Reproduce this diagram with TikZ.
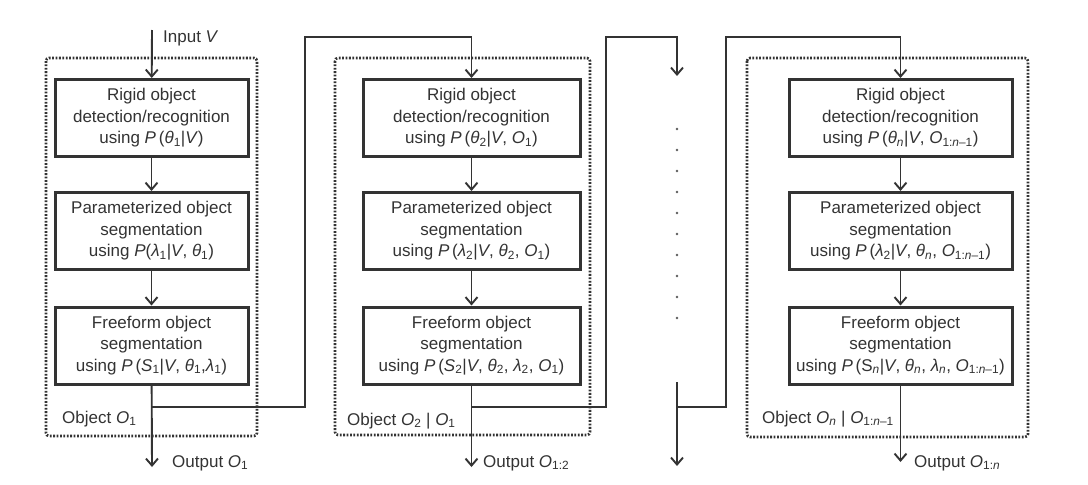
\documentclass[tikz,border=0pt]{standalone}
\usepackage{fontspec}
\setmainfont{Liberation Sans}
\usetikzlibrary{arrows.meta}
\definecolor{gris}{HTML}{333333}
\newcommand{\ind}[1]{\textsubscript{#1}}
\begin{document}
\begin{tikzpicture}[x=1pt, y=-1pt]
	\tikzset{boite/.style={draw=gris, line width=3pt, fill=white, align=center, inner sep=0pt, minimum height=77pt, text=gris, font=\fontsize{17}{21.5}\selectfont},
		cadre/.style={draw=gris, line width=2.6pt, dash pattern=on 1.8pt off 1.6pt, rounded corners=3pt},
		fleche/.style={>={Straight Barb[length=7pt, width=12pt]}, ->, draw=gris, line width=1.9pt},
		texte/.style={anchor=west, inner sep=0pt, text=gris, font=\fontsize{17}{21.5}\selectfont}};

	\useasboundingbox[fill=white] (0,0) rectangle (1088,485);

	\draw[cadre] (  46,  58) rectangle ( 257, 436);
	\draw[cadre] ( 335,  58) rectangle ( 590, 435);
	\draw[cadre] ( 747,  58) rectangle (1028, 437);

	\node[boite, minimum width=193pt] (r1) at (151.5, 118) {Rigid object\\detection/recognition\\using \textit{P}\,(\textit{θ}\ind{1}|\textit{V})};
	\node[boite, minimum width=193pt] (p1) at (151.5, 231) {Parameterized object\\segmentation\\using \textit{P}(\textit{λ}\ind{1}|\textit{V}, \textit{θ}\ind{1})};
	\node[boite, minimum width=193pt] (f1) at (151.5, 345.5) {Freeform object\\segmentation\\using \textit{P}\,(\textit{S}\ind{1}|\textit{V}, \textit{θ}\ind{1},\textit{λ}\ind{1})};

	\node[boite, minimum width=217pt] (r2) at (471.5, 118) {Rigid object\\detection/recognition\\using \textit{P}\,(\textit{θ}\ind{2}|\textit{V}, \textit{O}\ind{1})};
	\node[boite, minimum width=217pt] (p2) at (471.5, 231) {Parameterized object\\segmentation\\using \textit{P}\,(\textit{λ}\ind{2}|\textit{V}, \textit{θ}\ind{2}, \textit{O}\ind{1})};
	\node[boite, minimum width=217pt] (f2) at (471.5, 345.5) {Freeform object\\segmentation\\using \textit{P}\,(\textit{S}\ind{2}|\textit{V}, \textit{θ}\ind{2}, \textit{λ}\ind{2}, \textit{O}\ind{1})};

	\node[boite, minimum width=223pt] (rn) at (900.5, 118) {Rigid object\\detection/recognition\\using \textit{P}\,(\textit{θ}\ind{\textit{n}}|\textit{V}, \textit{O}\ind{1:\textit{n}–1})};
	\node[boite, minimum width=223pt] (pn) at (900.5, 231) {Parameterized object\\segmentation\\using \textit{P}\,(\textit{λ}\ind{2}|\textit{V}, \textit{θ}\ind{\textit{n}}, \textit{O}\ind{1:\textit{n}–1})};
	\node[boite, minimum width=223pt] (fn) at (900.5, 345.5) {Freeform object\\segmentation\\using \textit{P}\,(S\ind{\textit{n}}|\textit{V}, \textit{θ}\ind{\textit{n}}, \textit{λ}\ind{\textit{n}}, \textit{O}\ind{1:\textit{n}–1})};

	\node[texte] (in)  at ( 163,  38) {Input \textit{V}};
	\node[texte] (o1)  at (  62, 419) {Object \textit{O}\ind{1}};
	\node[texte] (o2)  at ( 347, 421) {Object \textit{O}\ind{2} | \textit{O}\ind{1}};
	\node[texte] (on)  at ( 762, 419) {Object \textit{O}\ind{\textit{n}} | \textit{O}\ind{1:\textit{n}–1}};
	\node[texte] (s1l) at ( 172, 463) {Output \textit{O}\ind{1}};
	\node[texte] (s2l) at ( 483, 463) {Output \textit{O}\ind{1:2}};
	\node[texte] (snl) at ( 914, 463) {Output \textit{O}\ind{1:\textit{n}}};

	\coordinate (e1) at ( 152,  30);
	\coordinate (b1) at ( 152, 407);
	\coordinate (s1) at ( 152, 467);
	\coordinate (h1) at ( 305,  37);
	\coordinate (b2) at ( 471.5, 407);
	\coordinate (s2) at ( 471.5, 467);
	\coordinate (h2) at ( 606,  37);
	\coordinate (d1) at ( 677,  76);
	\coordinate (d2) at ( 677, 382);
	\coordinate (b3) at ( 677, 407);
	\coordinate (s3) at ( 677, 466);
	\coordinate (h3) at ( 726,  37);
	\coordinate (sn) at ( 900.5, 462);

	\draw[fleche] (e1) to (r1);
	\draw[fleche] (r1) to (p1);
	\draw[fleche] (p1) to (f1);
	\draw[fleche] (f1) to (s1);
	\draw[fleche] (b1) -| (h1) -| (r2.north);

	\draw[fleche] (r2) to (p2);
	\draw[fleche] (p2) to (f2);
	\draw[fleche] (f2) to (s2);
	\draw[fleche] (b2) -| (h2) -| (d1);

	\foreach \i in {0,...,9}
		\fill[gris!80] (677, 129+21*\i) circle (1.4pt);
	\draw[fleche] (d2) to (s3);
	\draw[fleche] (b3) -| (h3) -| (rn.north);

	\draw[fleche] (rn) to (pn);
	\draw[fleche] (pn) to (fn);
	\draw[fleche] (fn) to (sn);
\end{tikzpicture}
\end{document}
